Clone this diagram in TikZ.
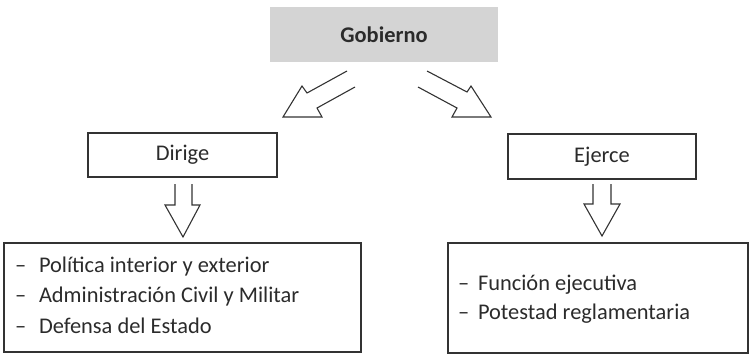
\documentclass[tikz,border=0pt]{standalone}
\usepackage{fontspec}
\setmainfont{Carlito}
\definecolor{txt}{HTML}{2B2B2B}
\definecolor{ln}{HTML}{333333}
\definecolor{gb}{HTML}{D4D4D4}
\begin{document}
\begin{tikzpicture}[x=1bp,y=-1bp,
  every node/.style={inner sep=0pt,outer sep=0pt,text=txt,font=\fontsize{22.5}{27}\selectfont},
  boxline/.style={draw=ln,line width=1.2bp},
  blockarrow/.style={draw=ln,line width=1.1bp,line join=miter},
  item/.style={anchor=base west}]
\useasboundingbox (0,0) rectangle (749,354);
% top box
\node[fill=gb,minimum width=228bp,minimum height=55bp] (gob) at (384,34.5) {\textbf{Gobierno}};
% middle boxes
\node[boxline,minimum width=189bp,minimum height=44bp] (dir) at (182.5,155) {Dirige};
\node[boxline,minimum width=188bp,minimum height=45bp] (eje) at (602,156.5) {Ejerce};
% list boxes
\node[boxline,minimum width=357bp,minimum height=109bp] (lbox) at (182.5,297.5) {};
\node[boxline,minimum width=300bp,minimum height=110bp] (rbox) at (598,298) {};
% left items
\node[item] (l1d) at (15,272) {–};
\node[item] (l1) at (39,272) {Política interior y exterior};
\node[item] (l2d) at (15,302.5) {–};
\node[item] (l2) at (39,302.5) {Administración Civil y Militar};
\node[item] (l3d) at (15,333) {–};
\node[item] (l3) at (39,333) {Defensa del Estado};
% right items
\node[item] (r1d) at (458,290) {–};
\node[item] (r1) at (478,290) {Función ejecutiva};
\node[item] (r2d) at (458,319) {–};
\node[item] (r2) at (478,319) {Potestad reglamentaria};
% diagonal block arrows
\draw[blockarrow] (347,71) -- (307,93) -- (302,86) -- (283,117) -- (322,117) -- (317,108) -- (355,87);
\draw[blockarrow] (427,71) -- (467,92) -- (471,86) -- (491,117) -- (452,117) -- (457,108) -- (418,87);
% down block arrows
\draw[blockarrow] (175,184) -- (175,205) -- (165,205) -- (183,237) -- (200,205) -- (192,205) -- (192,184);
\draw[blockarrow] (593,184) -- (593,204) -- (584,204) -- (602,236) -- (620,204) -- (611,204) -- (611,184);
\end{tikzpicture}
\end{document}
